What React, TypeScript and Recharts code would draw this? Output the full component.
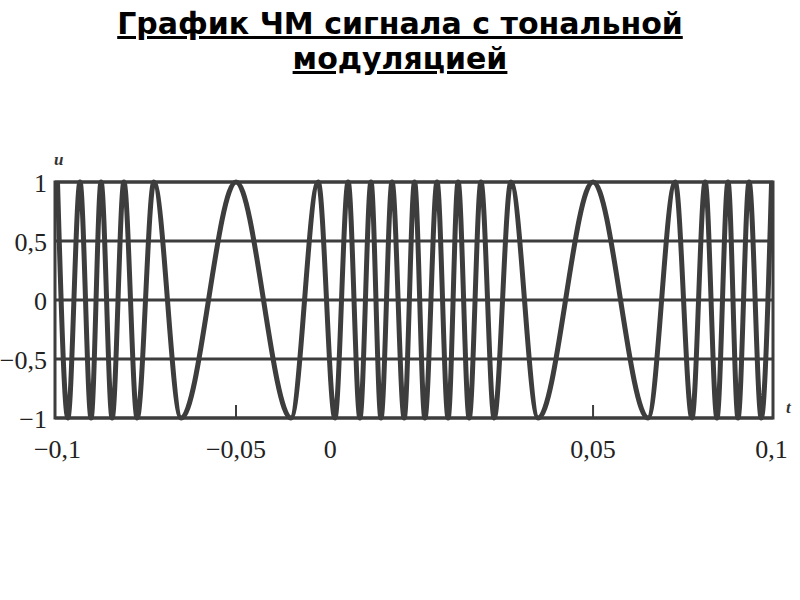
import React from "react";
import {
  LineChart,
  Line,
  XAxis,
  YAxis,
  CartesianGrid,
  ReferenceArea,
} from "recharts";

// Signal extrema (time in seconds)
const peakTimes = [
  -0.1, -0.0937, -0.0878, -0.0814, -0.073, -0.05, -0.027, -0.0186, -0.0122,
  -0.0063, 0, 0.0063, 0.0122, 0.0186, 0.027, 0.05, 0.073, 0.0814, 0.0878,
  0.0937, 0.1,
];
const troughTimes = [
  -0.0971, -0.0906, -0.0847, -0.0777, -0.0654, -0.0346, -0.0223, -0.0153,
  -0.0094, -0.0029, 0.0029, 0.0094, 0.0153, 0.0223, 0.0346, 0.0654, 0.0777,
  0.0847, 0.0906, 0.0971,
];
const peakValue = 1;
const troughValue = -1;

// Axis ticks as printed in the picture
const xTickValues = [-0.1, -0.05, -0.0236, 0.05, 0.1];
const xTickLabels = ["\u22120,1", "\u22120,05", "0", "0,05", "0,1"];
const xTickMarks = [-0.05, 0.05];
const yTickValues = [-1, -0.5, 0, 0.5, 1];
const yTickLabels = ["\u22121", "\u22120,5", "0", "0,5", "1"];

const xDomain: [number, number] = [-0.1007, 0.1004];
const yDomain: [number, number] = [-1, 1];

const titleLines = ["График ЧМ сигнала с тональной", "модуляцией"];

const data = [
  ...peakTimes.map((t) => ({ t, u: peakValue })),
  ...troughTimes.map((t) => ({ t, u: troughValue })),
].sort((a, b) => a.t - b.t);

const INK = "#3d3d3d";
const SERIF = "'Liberation Serif', 'DejaVu Serif', serif";

const XTick = (props: any) => {
  const { x, y, payload, index } = props;
  const label = xTickLabels[index] ?? String(payload.value);
  const hasMark = xTickMarks.includes(payload.value);
  return (
    <g>
      {hasMark && (
        <line x1={x} x2={x} y1={y - 13} y2={y} stroke={INK} strokeWidth={2} />
      )}
      <text
        x={x}
        y={y + 40}
        textAnchor="middle"
        fontFamily={SERIF}
        fontSize={26}
        fill="#222"
      >
        {label}
      </text>
    </g>
  );
};

const YTick = (props: any) => {
  const { x, y, index, payload } = props;
  const label = yTickLabels[index] ?? String(payload.value);
  return (
    <text
      x={x - 8}
      y={y + 10}
      textAnchor="end"
      fontFamily={SERIF}
      fontSize={26}
      fill="#222"
    >
      {label}
    </text>
  );
};

export default function App() {
  return (
    <div
      style={{
        position: "absolute",
        left: 0,
        top: 0,
        width: 800,
        height: 600,
        background: "#fff",
      }}
    >
      <div
        style={{
          position: "absolute",
          left: 0,
          top: 6,
          width: 800,
          textAlign: "center",
          fontFamily: "'DejaVu Sans', sans-serif",
          fontWeight: "bold",
          fontSize: 30,
          lineHeight: "35px",
          color: "#000",
          textDecoration: "underline",
        }}
      >
        {titleLines.map((l, i) => (
          <div key={i}>{l}</div>
        ))}
      </div>
      <LineChart
        width={800}
        height={600}
        data={data}
        margin={{ top: 182, right: 27, bottom: 142, left: 10 }}
        style={{ position: "absolute", left: 0, top: 0 }}
      >
        <CartesianGrid
          vertical={false}
          stroke={INK}
          strokeWidth={3}
          horizontalValues={yTickValues}
        />
        <ReferenceArea
          x1={xDomain[0]}
          x2={xDomain[1]}
          y1={yDomain[0]}
          y2={yDomain[1]}
          fill="none"
          stroke={INK}
          strokeWidth={3}
          fillOpacity={0}
        />
        <XAxis
          type="number"
          dataKey="t"
          domain={xDomain}
          ticks={xTickValues}
          interval={0}
          axisLine={false}
          tickLine={false}
          tickSize={0}
          tickMargin={0}
          height={40}
          tick={<XTick />}
          allowDataOverflow
        />
        <YAxis
          type="number"
          domain={yDomain}
          ticks={yTickValues}
          interval={0}
          axisLine={false}
          tickLine={false}
          tickSize={0}
          tickMargin={0}
          width={45}
          tick={<YTick />}
        />
        <Line
          type="monotoneX"
          dataKey="u"
          stroke={INK}
          strokeWidth={5}
          dot={false}
          isAnimationActive={false}
        />
      </LineChart>
      <div
        style={{
          position: "absolute",
          left: 54,
          top: 150,
          fontFamily: SERIF,
          fontStyle: "italic",
          fontWeight: "bold",
          fontSize: 17,
          color: "#333",
        }}
      >
        u
      </div>
      <div
        style={{
          position: "absolute",
          left: 786,
          top: 398,
          fontFamily: SERIF,
          fontStyle: "italic",
          fontWeight: "bold",
          fontSize: 17,
          color: "#333",
        }}
      >
        t
      </div>
    </div>
  );
}
